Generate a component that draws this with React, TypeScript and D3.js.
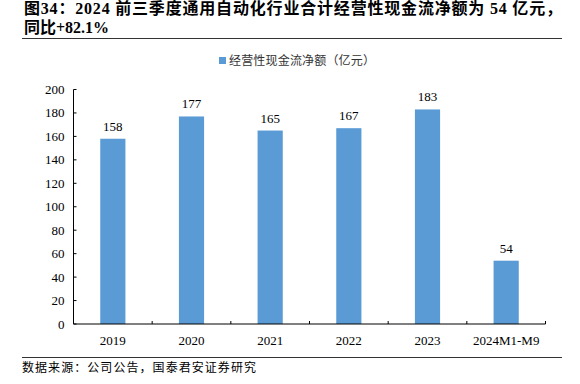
import React from "react";
import * as d3 from "d3";

const categories = ["2019", "2020", "2021", "2022", "2023", "2024M1-M9"];
const values = [158, 177, 165, 167, 183, 54];
const yTicks = [0, 20, 40, 60, 80, 100, 120, 140, 160, 180, 200];
const titleLine1 = "图34：2024 前三季度通用自动化行业合计经营性现金流净额为 54 亿元，";
const titleLine2 = "同比+82.1%";
const legendLabel = "经营性现金流净额（亿元）";
const sourceText = "数据来源：公司公告，国泰君安证券研究";

const W = 580, H = 384;
const left = 73.5, right = 545.5, top = 89.5, bottom = 324;
const serif = "'Liberation Serif', 'Times New Roman', serif";
const cjk = "'Noto Sans CJK SC', sans-serif";
const titleFont = "'Liberation Serif', 'Noto Sans CJK SC', serif";
const barColor = "#5B9BD5";

export default function App() {
  const x = d3.scaleBand<string>().domain(categories).range([left, right]).paddingInner(0.68).paddingOuter(0.34);
  const y = d3.scaleLinear().domain([0, 200]).range([bottom, top]);
  const step = (right - left) / categories.length;
  const boundaries = d3.range(categories.length + 1).map((i) => left + i * step);

  return (
    <svg width={W} height={H} style={{ position: "absolute", left: 0, top: 0, background: "#fff" }}>
      <text x={24} y={14} fontSize={16} fontWeight="bold" fontFamily={titleFont} fill="#000"
        textLength={538} lengthAdjust="spacing">
        {titleLine1}
      </text>
      <text x={24} y={33} fontSize={16} fontWeight="bold" fontFamily={titleFont} fill="#000">
        {titleLine2}
      </text>
      <line x1={22} x2={562} y1={38.5} y2={38.5} stroke="#333" strokeWidth={1} />

      <rect x={219} y={57} width={7} height={7} fill={barColor} />
      <text x={229} y={65} fontSize={12} fontFamily={cjk} fill="#333" textLength={146} lengthAdjust="spacing">{legendLabel}</text>

      {values.map((v, i) => (
        <g key={categories[i]}>
          <rect x={x(categories[i])} y={y(v)} width={x.bandwidth()} height={bottom - y(v)} fill={barColor} />
          <text x={(x(categories[i]) as number) + x.bandwidth() / 2} y={y(v) - 8} fontSize={13} textAnchor="middle" fontFamily={serif} fill="#000">
            {v}
          </text>
        </g>
      ))}

      <line x1={left} x2={left} y1={top} y2={bottom} stroke="#000" strokeWidth={1} />
      {yTicks.map((t) => (
        <g key={t}>
          <line x1={left} x2={left + 3} y1={y(t)} y2={y(t)} stroke="#000" />
          <text x={left - 9} y={y(t) + 4.5} fontSize={13} textAnchor="end" fontFamily={serif} fill="#000">{t}</text>
        </g>
      ))}
      <line x1={left} x2={right} y1={bottom} y2={bottom} stroke="#000" strokeWidth={1} />
      {boundaries.map((b, i) => (
        <line key={i} x1={b} x2={b} y1={bottom} y2={bottom - 3} stroke="#000" />
      ))}
      {categories.map((c) => (
        <text key={c} x={(x(c) as number) + x.bandwidth() / 2} y={345} fontSize={13} textAnchor="middle" fontFamily={serif} fill="#000">
          {c}
        </text>
      ))}

      <line x1={22} x2={562} y1={357.5} y2={357.5} stroke="#333" strokeWidth={1} />
      <text x={22} y={372} fontSize={12} fontFamily={cjk} fill="#000" textLength={234} lengthAdjust="spacing">{sourceText}</text>
    </svg>
  );
}
